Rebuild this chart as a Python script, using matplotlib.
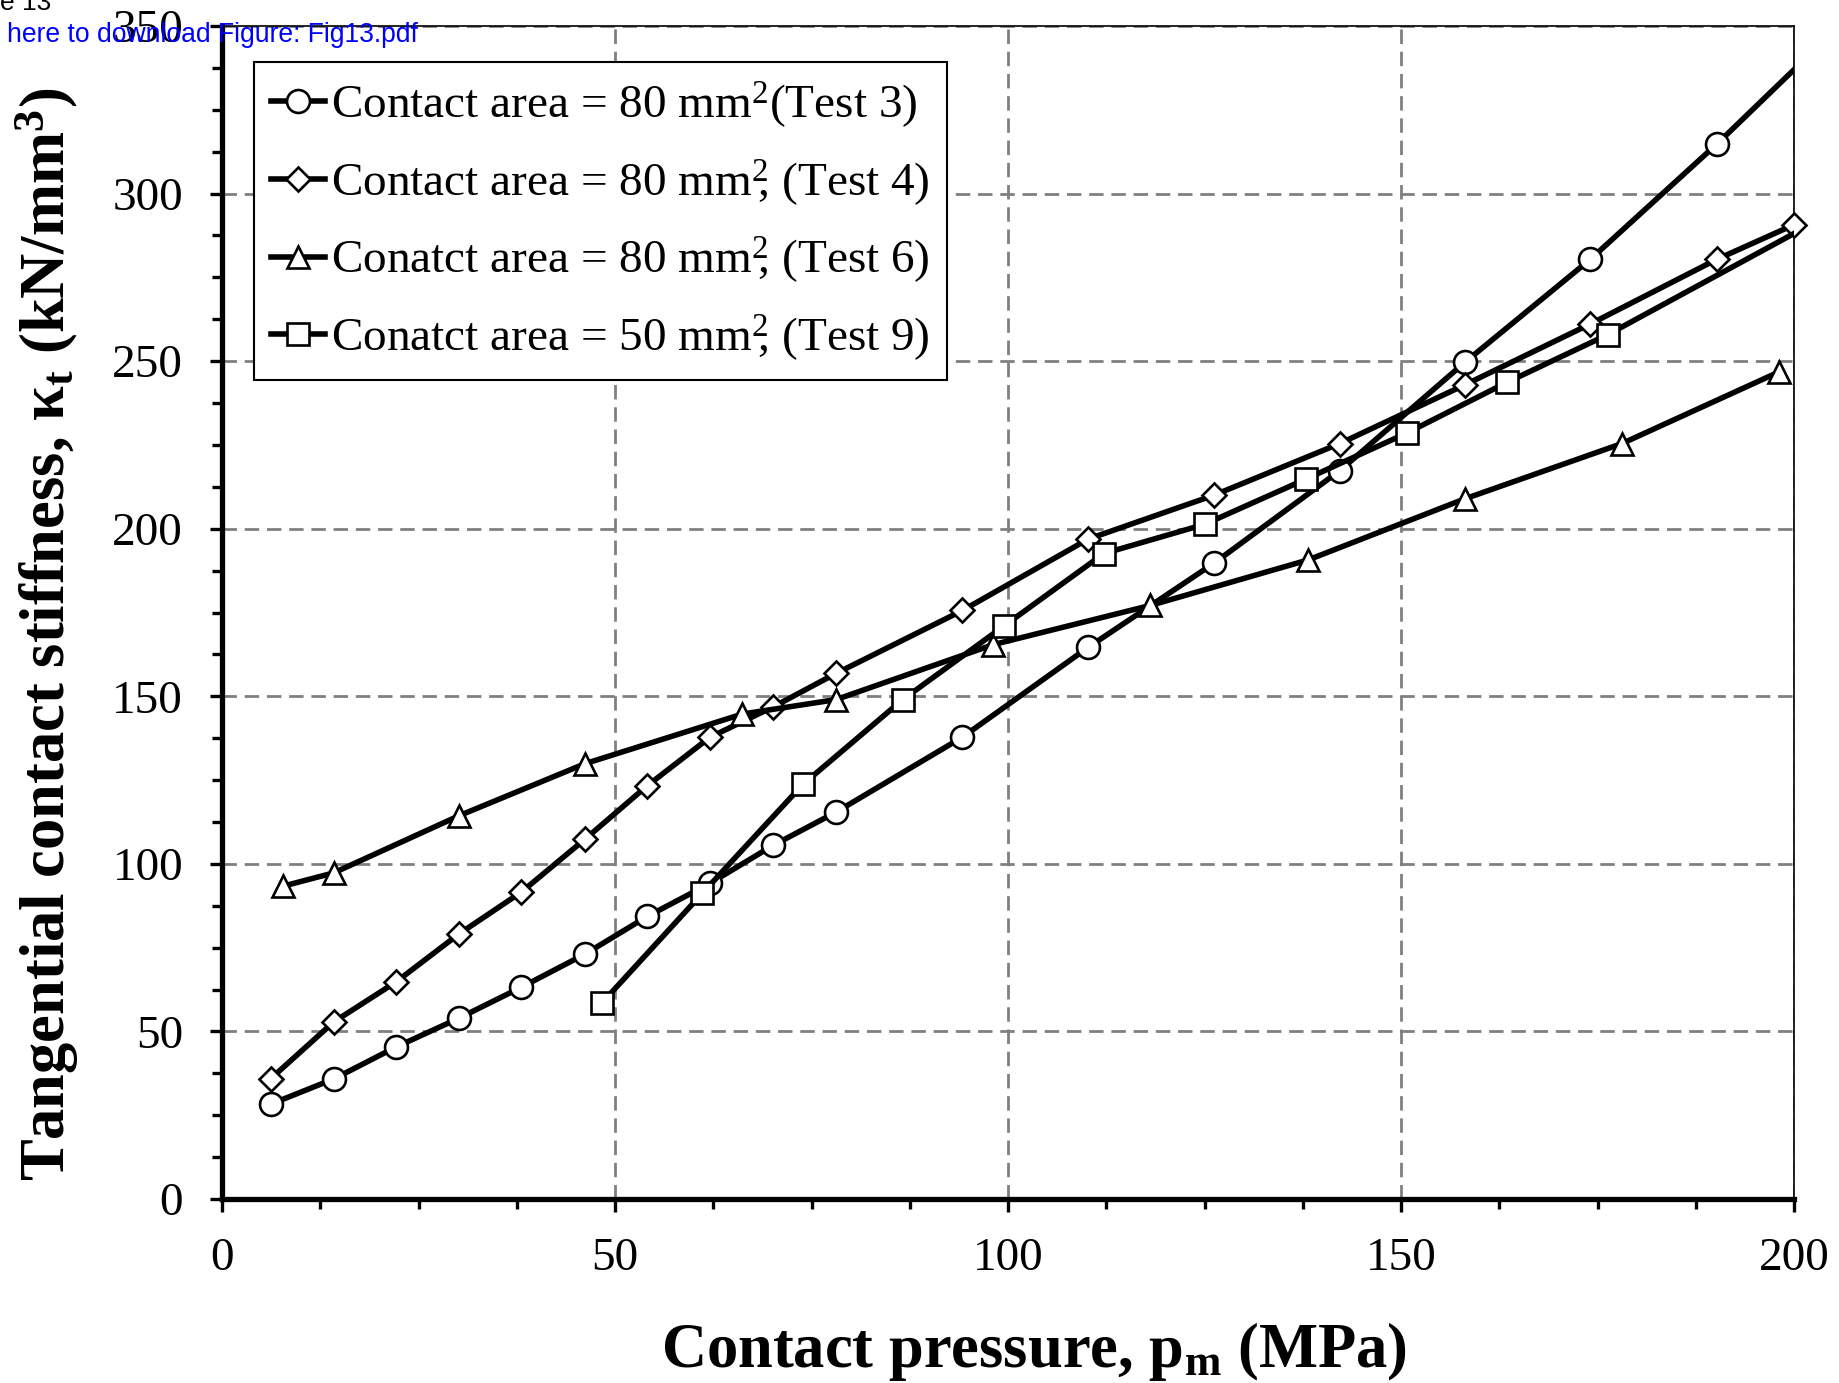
import matplotlib
matplotlib.use('Agg')
import matplotlib.pyplot as plt
from matplotlib.lines import Line2D
from matplotlib.ticker import MultipleLocator
import numpy as np

# ---------------- data ----------------
x_test3 = [6.2, 14.2, 22.1, 30.1, 38.1, 46.2, 54.1, 62.1, 70.1, 78.1, 94.2, 110.2, 126.2, 142.2, 158.1, 174.1, 190.2, 206.2]
y_test3 = [28.3, 35.8, 45.3, 53.9, 63.2, 73.1, 84.3, 94.2, 105.5, 115.4, 137.8, 164.6, 189.7, 217.3, 249.6, 280.4, 314.8, 351.0]

x_test4 = [6.2, 14.2, 22.1, 30.1, 38.1, 46.2, 54.1, 62.1, 70.1, 78.1, 94.2, 110.2, 126.2, 142.2, 158.1, 174.1, 190.2, 200.0]
y_test4 = [35.9, 52.8, 64.7, 79.0, 91.6, 107.4, 123.3, 137.8, 146.8, 156.8, 175.6, 196.9, 210.0, 225.4, 242.9, 261.1, 280.4, 290.7]

x_test6 = [7.7, 14.2, 30.2, 46.2, 66.2, 78.1, 98.1, 118.1, 138.2, 158.1, 178.1, 198.1]
y_test6 = [93.3, 97.3, 114.4, 129.9, 144.7, 149.0, 165.4, 177.1, 190.7, 208.9, 225.4, 246.8]

x_test9 = [48.3, 61.1, 73.9, 86.6, 99.5, 112.2, 125.0, 137.9, 150.7, 163.5, 176.3, 201.9]
y_test9 = [58.4, 91.2, 123.7, 149.0, 171.0, 192.6, 201.3, 214.8, 228.5, 243.7, 257.9, 290.5]

labels = [
    r'Contact area = 80 mm$^{2}$(Test 3)',
    r'Contact area = 80 mm$^{2}\!\!$, (Test 4)',
    r'Conatct area = 80 mm$^{2}\!\!$, (Test 6)',
    r'Conatct area = 50 mm$^{2}\!\!$, (Test 9)',
]
x_ticks = [0, 50, 100, 150, 200]
y_ticks = [0, 50, 100, 150, 200, 250, 300, 350]

# ---------------- style ----------------
plt.rcParams['font.family'] = ['Liberation Serif', 'DejaVu Serif']
plt.rcParams['mathtext.fontset'] = 'custom'
plt.rcParams['mathtext.rm'] = 'Liberation Serif'
plt.rcParams['mathtext.it'] = 'Liberation Serif:italic'
plt.rcParams['mathtext.bf'] = 'Liberation Serif:bold'
plt.rcParams['mathtext.default'] = 'regular'

W, H = 1839, 1383
fig = plt.figure(figsize=(W / 100, H / 100), dpi=100)
ax = fig.add_axes([222 / W, 1 - 1199 / H, (1794 - 222) / W, (1199 - 26) / H])

series = [
    (x_test3, y_test3, 'o', 16.5),
    (x_test4, y_test4, 'D', 12),
    (x_test6, y_test6, '^', 15.5),
    (x_test9, y_test9, 's', 15.5),
]
LW = 4.0
handles = []
for i, (xs, ys, mk, ms) in enumerate(series):
    xs = np.asarray(xs)
    ys = np.asarray(ys)
    ax.plot(xs, ys, color='black', lw=LW, solid_joinstyle='round',
            solid_capstyle='butt', zorder=3 + 2 * i)
    inside = xs <= 200
    ax.plot(xs[inside], ys[inside], ls='none', marker=mk, ms=ms,
            mfc='white', mec='black', mew=1.9, clip_on=False, zorder=4 + 2 * i)
    handles.append(Line2D([], [], color='black', lw=LW, marker=mk, ms=ms,
                          mfc='white', mec='black', mew=1.9))

ax.set_xlim(0, 200)
ax.set_ylim(0, 350)
ax.set_xticks(x_ticks)
ax.set_yticks(y_ticks)
ax.xaxis.set_minor_locator(MultipleLocator(12.5))
ax.yaxis.set_minor_locator(MultipleLocator(12.5))
ax.tick_params(which='major', direction='out', length=9, width=2.4,
               labelsize=34, pad=19, color='black')
ax.tick_params(which='minor', direction='out', length=7, width=2.4, color='black')

for side in ['left', 'bottom']:
    ax.spines[side].set_linewidth(3.8)
for side in ['top', 'right']:
    ax.spines[side].set_linewidth(1.2)

ax.set_axisbelow(True)
ax.grid(True, which='major', color='#808080', lw=2.0, ls=(0, (5.2, 2.8)))

leg = ax.legend(handles, labels, loc='upper left', bbox_to_anchor=(32 / 1572, (1199 - 62) / 1173),
                borderaxespad=0, fontsize=34, frameon=True, fancybox=False,
                edgecolor='black', framealpha=1, handlelength=1.15,
                handletextpad=0.12, labelspacing=0.57, borderpad=0.36, numpoints=1)
leg.get_frame().set_linewidth(1.5)
leg.set_zorder(20)

fig.text(1034 / W, 1 - 1367 / H, r'Contact pressure, p$_{\mathbf{m}}$ (MPa)',
         fontsize=45, fontweight='bold', ha='center', va='baseline')
fig.text(47 / W, 1 - 634 / H,
         r'Tangential contact stiffness, κ$_{\mathbf{t}}$ (kN/mm$^{\mathbf{3}}$)',
         fontsize=45, fontweight='bold', ha='center', va='center', rotation=90)

fig.text(0 / W, 1 - 10 / H, 'e 13', fontsize=19, family='Liberation Sans',
         ha='left', va='baseline', color='black', zorder=30)
fig.text(7 / W, 1 - 42 / H, 'here to download Figure: Fig13.pdf', fontsize=19.1,
         family='Liberation Sans', ha='left', va='baseline', color='#0000FF', zorder=30)

fig.savefig('out.png', dpi=100)
